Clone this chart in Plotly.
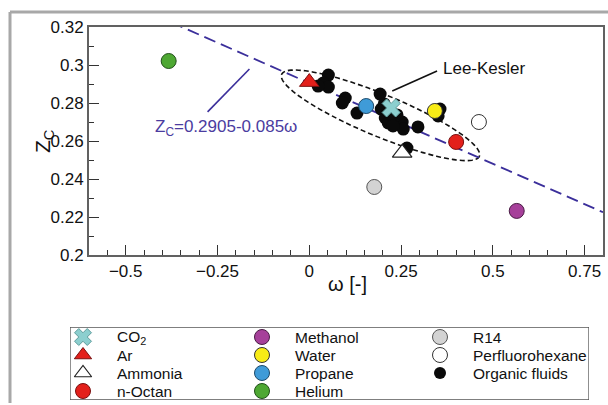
import math
import plotly.graph_objects as go

# ---------------- data ----------------
fluid_names = ["CO<sub>2</sub>", "Ar", "Ammonia", "n-Octan", "Methanol", "Water",
               "Propane", "Helium", "R14", "Perfluorohexane"]
fluid_omega = [0.223, 0.000, 0.253, 0.400, 0.565, 0.342, 0.155, -0.383, 0.177, 0.462]
fluid_zc = [0.2774, 0.2910, 0.2537, 0.2595, 0.2232, 0.2758, 0.2784, 0.3021, 0.2358, 0.2700]

organic_omega = [0.052, 0.038, 0.052, 0.024, 0.098, 0.090, 0.130, 0.193, 0.196, 0.207,
                 0.215, 0.234, 0.253, 0.256, 0.296, 0.239, 0.220, 0.356, 0.351, 0.266,
                 0.228, 0.204]
organic_zc = [0.2947, 0.2905, 0.2884, 0.2889, 0.2826, 0.2800, 0.2747, 0.2847, 0.2768, 0.2721,
              0.2695, 0.2700, 0.2700, 0.2663, 0.2674, 0.2737, 0.2742, 0.2768, 0.2732, 0.2563,
              0.2679, 0.2795]

fit_intercept = 0.2905
fit_slope = -0.085

x_range = [-0.6, 0.8]
y_range = [0.2, 0.32]

# ---------------- styles ----------------
styles = {
    "CO<sub>2</sub>": dict(symbol="x", size=16, color="#8ccfcf", line=dict(color="#5f9c9c", width=1)),
    "Ar": dict(symbol="triangle-up", size=17, color="#e3201b", line=dict(color="#7a1010", width=1)),
    "Ammonia": dict(symbol="triangle-up", size=17, color="#ffffff", line=dict(color="#222222", width=1.2)),
    "n-Octan": dict(symbol="circle", size=15, color="#e3201b", line=dict(color="#7a1010", width=1)),
    "Methanol": dict(symbol="circle", size=15, color="#a6409a", line=dict(color="#4a1d45", width=1)),
    "Water": dict(symbol="circle", size=15, color="#f8ec16", line=dict(color="#333333", width=1)),
    "Propane": dict(symbol="circle", size=15, color="#3f9bd8", line=dict(color="#1d4a6a", width=1)),
    "Helium": dict(symbol="circle", size=15, color="#4ea833", line=dict(color="#22501a", width=1)),
    "R14": dict(symbol="circle", size=15, color="#d3d3d3", line=dict(color="#555555", width=1)),
    "Perfluorohexane": dict(symbol="circle", size=15, color="#ffffff", line=dict(color="#333333", width=1)),
}
organic_style = dict(symbol="circle", size=13, color="#0a0a0a", line=dict(color="#0a0a0a", width=0))

FONT = "Arial, Liberation Sans, sans-serif"
LINE_COLOR = "#3b2f9b"

W, H = 608, 403
PL, PR, PT, PB = 89, 603, 27, 255  # plot area in px (from top-left)

fig = go.Figure()

# fit line
fig.add_trace(go.Scatter(
    x=x_range, y=[fit_intercept + fit_slope * v for v in x_range],
    mode="lines", line=dict(color=LINE_COLOR, width=1.8, dash="12px,6px"),
    showlegend=False, hoverinfo="skip", xaxis="x", yaxis="y"))

# organic fluids
fig.add_trace(go.Scatter(x=organic_omega, y=organic_zc, mode="markers",
                         marker=organic_style, showlegend=False, xaxis="x", yaxis="y"))

# named fluids
for n, xo, yz in zip(fluid_names, fluid_omega, fluid_zc):
    fig.add_trace(go.Scatter(x=[xo], y=[yz], mode="markers", marker=styles[n],
                             showlegend=False, xaxis="x", yaxis="y"))

# ---------------- ellipse (Lee-Kesler region) ----------------
sx = (PR - PL) / (x_range[1] - x_range[0])
sy = (PB - PT) / (y_range[1] - y_range[0])
ell_cx, ell_cy = 0.194, 0.2735
ell_a, ell_b, ell_theta = 107, 21, math.radians(22.5)
pts = []
for i in range(121):
    t = 2 * math.pi * i / 120
    u, v = ell_a * math.cos(t), ell_b * math.sin(t)
    dx = u * math.cos(ell_theta) - v * math.sin(ell_theta)
    dy = u * math.sin(ell_theta) + v * math.cos(ell_theta)
    pts.append((ell_cx + dx / sx, ell_cy - dy / sy))
path = "M " + " L ".join(f"{a:.5f},{b:.5f}" for a, b in pts) + " Z"

shapes = [
    dict(type="path", path=path, xref="x", yref="y", layer="below",
         line=dict(color="#111111", width=1.6, dash="5px,3px")),
    # leader lines
    dict(type="line", xref="x", yref="y", x0=-0.277, y0=0.2753, x1=-0.163, y1=0.2979,
         line=dict(color=LINE_COLOR, width=1.6)),
    dict(type="line", xref="x", yref="y", x0=0.226, y0=0.2863, x1=0.348, y1=0.2968,
         line=dict(color="#111111", width=1.6)),
    # outer frame of figure
    dict(type="line", xref="paper", yref="paper", x0=10 / W, x1=1, y0=1 - 12 / H, y1=1 - 12 / H,
         line=dict(color="#a8a8a8", width=3)),
    dict(type="line", xref="paper", yref="paper", x0=10 / W, x1=10 / W, y0=0, y1=1 - 12 / H,
         line=dict(color="#a8a8a8", width=3)),
]

annotations = [
    dict(text="Z<sub>C</sub>=0.2905-0.085ω", x=-0.226, y=0.2668, xref="x", yref="y",
         showarrow=False, font=dict(family=FONT, size=17, color="#4b3ca0")),
    dict(text="Lee-Kesler", x=0.478, y=0.2979, xref="x", yref="y",
         showarrow=False, font=dict(family=FONT, size=17, color="#111111")),
    dict(text="ω [-]", x=347 / W, y=1 - 297 / H, xref="paper", yref="paper",
         showarrow=False, font=dict(family=FONT, size=20, color="#111111")),
    dict(text="Z<sub>C</sub>", x=29 / W, y=1 - 141 / H, xref="paper", yref="paper",
         textangle=-90, showarrow=False, font=dict(family=FONT, size=21, color="#111111")),
]

# ---------------- manual legend (3 columns, column-major) ----------------
LG_L, LG_R, LG_T, LG_B = 70, 589, 327, 400
lg_w, lg_h = LG_R - LG_L, LG_B - LG_T
legend_entries = fluid_names[:8] + fluid_names[8:] + ["Organic fluids"]
col_sym_x = [13, 192, 370]
col_txt_x = [45, 223, 401]
row_y = [10, 28, 46, 64]
for i, name in enumerate(legend_entries):
    c, r = divmod(i, 4)
    st = dict(styles[name]) if name in styles else dict(organic_style)
    st["size"] = min(st["size"], 15) if name != "Organic fluids" else 12
    fig.add_trace(go.Scatter(x=[col_sym_x[c]], y=[lg_h - row_y[r]], mode="markers",
                             marker=st, showlegend=False, hoverinfo="skip",
                             xaxis="x2", yaxis="y2", cliponaxis=False))
    annotations.append(dict(text=name, x=col_txt_x[c], y=lg_h - row_y[r], xref="x2", yref="y2",
                            xanchor="left", yanchor="middle", showarrow=False,
                            font=dict(family=FONT, size=15.5, color="#111111")))
shapes.append(dict(type="rect", xref="x2", yref="y2", x0=0, x1=lg_w, y0=0, y1=lg_h,
                   line=dict(color="#555555", width=1.3), fillcolor="rgba(0,0,0,0)"))

axis_common = dict(
    showgrid=False, zeroline=False, showline=True, mirror=True, automargin=False,
    linecolor="#616161", linewidth=2,
    ticks="inside", ticklen=10, tickwidth=1.3, tickcolor="#333333",
    tickfont=dict(family=FONT, size=17, color="#111111"),
)

fig.update_layout(
    width=W, height=H,
    margin=dict(l=0, r=0, t=0, b=0, pad=0, autoexpand=False),
    paper_bgcolor="white", plot_bgcolor="rgba(0,0,0,0)",
    showlegend=False,
    xaxis=dict(axis_common, range=x_range, domain=[PL / W, PR / W], anchor="y",
               tick0=0, dtick=0.25,
               minor=dict(ticks="inside", ticklen=5, tickwidth=1.3, tickcolor="#333333", dtick=0.05)),
    yaxis=dict(axis_common, range=y_range, domain=[1 - PB / H, 1 - PT / H], anchor="x",
               tick0=0.2, dtick=0.02,
               minor=dict(ticks="inside", ticklen=5, tickwidth=1.3, tickcolor="#333333", dtick=0.01)),
    xaxis2=dict(range=[0, lg_w], domain=[LG_L / W, LG_R / W], anchor="y2", visible=False,
                fixedrange=True, automargin=False),
    yaxis2=dict(range=[0, lg_h], domain=[1 - LG_B / H, 1 - LG_T / H], anchor="x2", visible=False,
                fixedrange=True, automargin=False),
    shapes=shapes,
    annotations=annotations,
    font=dict(family=FONT),
)

fig.write_html("out.html")
